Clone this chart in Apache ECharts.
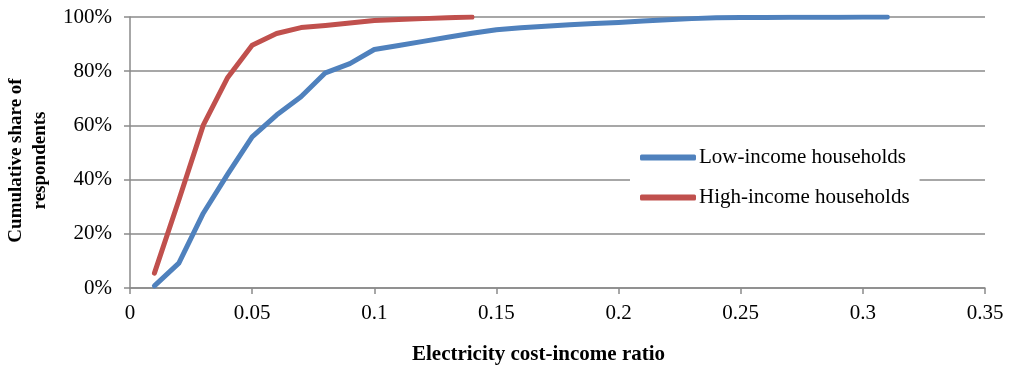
<!DOCTYPE html>
<html>
<head>
<meta charset="utf-8">
<script src="https://cdn.jsdelivr.net/npm/echarts@6/dist/echarts.min.js"></script>
<style>
html,body{margin:0;padding:0;background:#fff;}
#c{width:1014px;height:366px;}
</style>
</head>
<body>
<div id="c"></div>
<script>
var lowRatios = [0.01,0.02,0.03,0.04,0.05,0.06,0.07,0.08,0.09,0.10,0.11,0.12,0.13,0.14,0.15,0.16,0.17,0.18,0.19,0.20,0.21,0.22,0.23,0.24,0.25,0.26,0.27,0.28,0.29,0.30,0.31];
var lowIncome = [0.8,9.2,27.6,42,55.8,63.8,70.6,79.4,82.8,88,89.5,91,92.5,94,95.3,96,96.6,97.1,97.6,98,98.5,99,99.4,99.7,99.8,99.8,99.9,99.9,99.9,100,100];
var highRatios = [0.01,0.02,0.03,0.04,0.05,0.06,0.07,0.08,0.09,0.10,0.11,0.12,0.13,0.14];
var highIncome = [5.5,32.5,60.1,77.7,89.6,93.9,96.1,96.9,97.8,98.7,99.1,99.4,99.7,100];
var xTicks = {min:0, max:0.35, interval:0.05};
var yTicks = {min:0, max:100, interval:20};
var seriesNames = ['Low-income households','High-income households'];
var xTitle = 'Electricity cost-income ratio';
var yTitle = 'Cumulative share of\nrespondents';

function pairs(xs, ys){ return xs.map(function(x,i){ return [x, ys[i]]; }); }

var font = '"Liberation Serif", "Times New Roman", serif';
var gridColor = '#8a8a8a';
var chart = echarts.init(document.getElementById('c'));
chart.setOption({
  animation:false,
  backgroundColor:'#fff',
  textStyle:{fontFamily:font},
  grid:{left:130, right:29, top:17, bottom:78, containLabel:false, outerBoundsMode:'none'},
  legend:{
    orient:'vertical', left:630, top:141,
    backgroundColor:'#fff', padding:[6,10,6,10],
    itemWidth:56, itemHeight:6, itemGap:19,
    icon:'roundRect',
    textStyle:{fontFamily:font, fontSize:21, color:'#000', padding:[0,0,0,-2]},
    data:seriesNames
  },
  xAxis:{
    type:'value', min:xTicks.min, max:xTicks.max, interval:xTicks.interval,
    name:xTitle, nameLocation:'middle', nameGap:56,
    nameTextStyle:{fontFamily:font, fontSize:21, fontWeight:'bold', color:'#000', padding:[0,38,0,0]},
    axisLine:{show:true, lineStyle:{color:gridColor, width:1.5}},
    axisTick:{show:true, length:6, lineStyle:{color:gridColor, width:1.5}},
    axisLabel:{fontFamily:font, fontSize:21, color:'#000', margin:15},
    splitLine:{show:false}
  },
  yAxis:{
    type:'value', min:yTicks.min, max:yTicks.max, interval:yTicks.interval,
    name:yTitle, nameLocation:'middle', nameGap:75, nameRotate:90,
    nameTextStyle:{fontFamily:font, fontSize:19, fontWeight:'bold', color:'#000', lineHeight:24, padding:[0,16,0,0]},
    axisLine:{show:true, lineStyle:{color:gridColor, width:1.5}},
    axisTick:{show:true, length:6, lineStyle:{color:gridColor, width:1.5}},
    axisLabel:{fontFamily:font, fontSize:21, color:'#000', margin:18, formatter:'{value}%'},
    splitLine:{show:true, lineStyle:{color:gridColor, width:1.5}}
  },
  series:[
    {name:seriesNames[0], type:'line', data:pairs(lowRatios, lowIncome), showSymbol:false, symbol:'none',
     lineStyle:{color:'#4F81BD', width:5, cap:'round', join:'round'}, itemStyle:{color:'#4F81BD'}, z:3},
    {name:seriesNames[1], type:'line', data:pairs(highRatios, highIncome), showSymbol:false, symbol:'none',
     lineStyle:{color:'#C0504D', width:5, cap:'round', join:'round'}, itemStyle:{color:'#C0504D'}, z:4}
  ]
});
</script>
</body>
</html>
